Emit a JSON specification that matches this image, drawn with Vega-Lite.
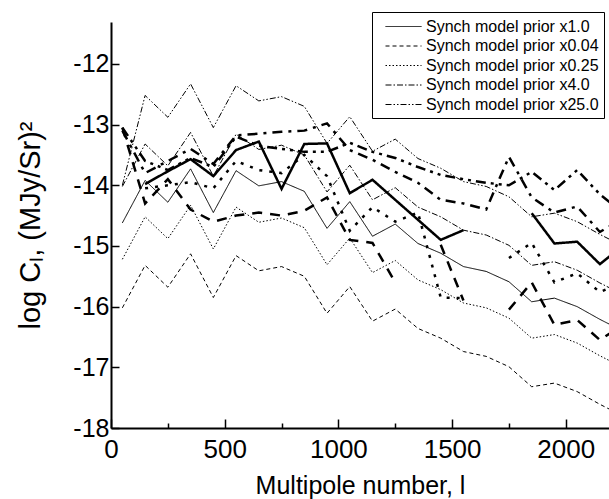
{
  "$schema": "https://vega.github.io/schema/vega-lite/v6.json",
  "width": 498,
  "height": 406,
  "autosize": {"type": "none"},
  "padding": {"left": 111, "top": 22, "right": 0, "bottom": 71},
  "background": "white",
  "config": {
    "view": {"stroke": null},
    "font": "Liberation Sans",
    "axis": {
      "grid": false,
      "domainColor": "black",
      "domainWidth": 2,
      "tickColor": "black",
      "tickWidth": 1.5,
      "labelColor": "black",
      "titleColor": "black",
      "labelFont": "Liberation Sans",
      "titleFont": "Liberation Sans",
      "labelFontSize": 26,
      "titleFontSize": 25,
      "titleFontWeight": "normal"
    }
  },
  "datasets": {
    "thin": [
      {"l": 50, "v": -14.62, "s": "Synch model prior x1.0"},
      {"l": 150, "v": -13.92, "s": "Synch model prior x1.0"},
      {"l": 250, "v": -14.28, "s": "Synch model prior x1.0"},
      {"l": 350, "v": -13.73, "s": "Synch model prior x1.0"},
      {"l": 450, "v": -14.45, "s": "Synch model prior x1.0"},
      {"l": 550, "v": -13.76, "s": "Synch model prior x1.0"},
      {"l": 650, "v": -14.01, "s": "Synch model prior x1.0"},
      {"l": 750, "v": -13.94, "s": "Synch model prior x1.0"},
      {"l": 850, "v": -14.10, "s": "Synch model prior x1.0"},
      {"l": 950, "v": -14.71, "s": "Synch model prior x1.0"},
      {"l": 1050, "v": -14.27, "s": "Synch model prior x1.0"},
      {"l": 1150, "v": -14.84, "s": "Synch model prior x1.0"},
      {"l": 1250, "v": -14.64, "s": "Synch model prior x1.0"},
      {"l": 1350, "v": -14.96, "s": "Synch model prior x1.0"},
      {"l": 1450, "v": -15.12, "s": "Synch model prior x1.0"},
      {"l": 1550, "v": -15.34, "s": "Synch model prior x1.0"},
      {"l": 1650, "v": -15.42, "s": "Synch model prior x1.0"},
      {"l": 1750, "v": -15.59, "s": "Synch model prior x1.0"},
      {"l": 1850, "v": -15.92, "s": "Synch model prior x1.0"},
      {"l": 1950, "v": -15.86, "s": "Synch model prior x1.0"},
      {"l": 2050, "v": -16.00, "s": "Synch model prior x1.0"},
      {"l": 2150, "v": -16.21, "s": "Synch model prior x1.0"},
      {"l": 2250, "v": -16.40, "s": "Synch model prior x1.0"},

      {"l": 50, "v": -16.02, "s": "Synch model prior x0.04"},
      {"l": 150, "v": -15.32, "s": "Synch model prior x0.04"},
      {"l": 250, "v": -15.68, "s": "Synch model prior x0.04"},
      {"l": 350, "v": -15.13, "s": "Synch model prior x0.04"},
      {"l": 450, "v": -15.85, "s": "Synch model prior x0.04"},
      {"l": 550, "v": -15.16, "s": "Synch model prior x0.04"},
      {"l": 650, "v": -15.41, "s": "Synch model prior x0.04"},
      {"l": 750, "v": -15.34, "s": "Synch model prior x0.04"},
      {"l": 850, "v": -15.50, "s": "Synch model prior x0.04"},
      {"l": 950, "v": -16.11, "s": "Synch model prior x0.04"},
      {"l": 1050, "v": -15.67, "s": "Synch model prior x0.04"},
      {"l": 1150, "v": -16.24, "s": "Synch model prior x0.04"},
      {"l": 1250, "v": -16.04, "s": "Synch model prior x0.04"},
      {"l": 1350, "v": -16.36, "s": "Synch model prior x0.04"},
      {"l": 1450, "v": -16.52, "s": "Synch model prior x0.04"},
      {"l": 1550, "v": -16.74, "s": "Synch model prior x0.04"},
      {"l": 1650, "v": -16.82, "s": "Synch model prior x0.04"},
      {"l": 1750, "v": -16.99, "s": "Synch model prior x0.04"},
      {"l": 1850, "v": -17.32, "s": "Synch model prior x0.04"},
      {"l": 1950, "v": -17.26, "s": "Synch model prior x0.04"},
      {"l": 2050, "v": -17.40, "s": "Synch model prior x0.04"},
      {"l": 2150, "v": -17.61, "s": "Synch model prior x0.04"},
      {"l": 2250, "v": -17.80, "s": "Synch model prior x0.04"},

      {"l": 50, "v": -15.22, "s": "Synch model prior x0.25"},
      {"l": 150, "v": -14.52, "s": "Synch model prior x0.25"},
      {"l": 250, "v": -14.88, "s": "Synch model prior x0.25"},
      {"l": 350, "v": -14.33, "s": "Synch model prior x0.25"},
      {"l": 450, "v": -15.05, "s": "Synch model prior x0.25"},
      {"l": 550, "v": -14.36, "s": "Synch model prior x0.25"},
      {"l": 650, "v": -14.61, "s": "Synch model prior x0.25"},
      {"l": 750, "v": -14.54, "s": "Synch model prior x0.25"},
      {"l": 850, "v": -14.70, "s": "Synch model prior x0.25"},
      {"l": 950, "v": -15.31, "s": "Synch model prior x0.25"},
      {"l": 1050, "v": -14.87, "s": "Synch model prior x0.25"},
      {"l": 1150, "v": -15.44, "s": "Synch model prior x0.25"},
      {"l": 1250, "v": -15.24, "s": "Synch model prior x0.25"},
      {"l": 1350, "v": -15.56, "s": "Synch model prior x0.25"},
      {"l": 1450, "v": -15.72, "s": "Synch model prior x0.25"},
      {"l": 1550, "v": -15.94, "s": "Synch model prior x0.25"},
      {"l": 1650, "v": -16.02, "s": "Synch model prior x0.25"},
      {"l": 1750, "v": -16.19, "s": "Synch model prior x0.25"},
      {"l": 1850, "v": -16.52, "s": "Synch model prior x0.25"},
      {"l": 1950, "v": -16.46, "s": "Synch model prior x0.25"},
      {"l": 2050, "v": -16.60, "s": "Synch model prior x0.25"},
      {"l": 2150, "v": -16.81, "s": "Synch model prior x0.25"},
      {"l": 2250, "v": -17.00, "s": "Synch model prior x0.25"},

      {"l": 50, "v": -14.02, "s": "Synch model prior x4.0"},
      {"l": 150, "v": -13.32, "s": "Synch model prior x4.0"},
      {"l": 250, "v": -13.68, "s": "Synch model prior x4.0"},
      {"l": 350, "v": -13.13, "s": "Synch model prior x4.0"},
      {"l": 450, "v": -13.85, "s": "Synch model prior x4.0"},
      {"l": 550, "v": -13.16, "s": "Synch model prior x4.0"},
      {"l": 650, "v": -13.41, "s": "Synch model prior x4.0"},
      {"l": 750, "v": -13.34, "s": "Synch model prior x4.0"},
      {"l": 850, "v": -13.50, "s": "Synch model prior x4.0"},
      {"l": 950, "v": -14.11, "s": "Synch model prior x4.0"},
      {"l": 1050, "v": -13.67, "s": "Synch model prior x4.0"},
      {"l": 1150, "v": -14.24, "s": "Synch model prior x4.0"},
      {"l": 1250, "v": -14.04, "s": "Synch model prior x4.0"},
      {"l": 1350, "v": -14.36, "s": "Synch model prior x4.0"},
      {"l": 1450, "v": -14.52, "s": "Synch model prior x4.0"},
      {"l": 1550, "v": -14.74, "s": "Synch model prior x4.0"},
      {"l": 1650, "v": -14.82, "s": "Synch model prior x4.0"},
      {"l": 1750, "v": -14.99, "s": "Synch model prior x4.0"},
      {"l": 1850, "v": -15.32, "s": "Synch model prior x4.0"},
      {"l": 1950, "v": -15.26, "s": "Synch model prior x4.0"},
      {"l": 2050, "v": -15.40, "s": "Synch model prior x4.0"},
      {"l": 2150, "v": -15.61, "s": "Synch model prior x4.0"},
      {"l": 2250, "v": -15.80, "s": "Synch model prior x4.0"},

      {"l": 50, "v": -14.00, "s": "Synch model prior x25.0"},
      {"l": 150, "v": -12.52, "s": "Synch model prior x25.0"},
      {"l": 250, "v": -12.88, "s": "Synch model prior x25.0"},
      {"l": 350, "v": -12.33, "s": "Synch model prior x25.0"},
      {"l": 450, "v": -13.05, "s": "Synch model prior x25.0"},
      {"l": 550, "v": -12.36, "s": "Synch model prior x25.0"},
      {"l": 650, "v": -12.61, "s": "Synch model prior x25.0"},
      {"l": 750, "v": -12.54, "s": "Synch model prior x25.0"},
      {"l": 850, "v": -12.70, "s": "Synch model prior x25.0"},
      {"l": 950, "v": -13.31, "s": "Synch model prior x25.0"},
      {"l": 1050, "v": -12.87, "s": "Synch model prior x25.0"},
      {"l": 1150, "v": -13.44, "s": "Synch model prior x25.0"},
      {"l": 1250, "v": -13.24, "s": "Synch model prior x25.0"},
      {"l": 1350, "v": -13.56, "s": "Synch model prior x25.0"},
      {"l": 1450, "v": -13.72, "s": "Synch model prior x25.0"},
      {"l": 1550, "v": -13.94, "s": "Synch model prior x25.0"},
      {"l": 1650, "v": -14.02, "s": "Synch model prior x25.0"},
      {"l": 1750, "v": -14.19, "s": "Synch model prior x25.0"},
      {"l": 1850, "v": -14.52, "s": "Synch model prior x25.0"},
      {"l": 1950, "v": -14.46, "s": "Synch model prior x25.0"},
      {"l": 2050, "v": -14.60, "s": "Synch model prior x25.0"},
      {"l": 2150, "v": -14.81, "s": "Synch model prior x25.0"},
      {"l": 2250, "v": -15.00, "s": "Synch model prior x25.0"}
    ],
    "bold": [
      {"l": 50, "v": null, "s": "b1"},
      {"l": 150, "v": -13.98, "s": "b1"},
      {"l": 250, "v": -13.77, "s": "b1"},
      {"l": 350, "v": -13.57, "s": "b1"},
      {"l": 450, "v": -13.85, "s": "b1"},
      {"l": 550, "v": -13.42, "s": "b1"},
      {"l": 650, "v": -13.28, "s": "b1"},
      {"l": 750, "v": -14.06, "s": "b1"},
      {"l": 850, "v": -13.32, "s": "b1"},
      {"l": 950, "v": -13.31, "s": "b1"},
      {"l": 1050, "v": -14.13, "s": "b1"},
      {"l": 1150, "v": -13.91, "s": "b1"},
      {"l": 1250, "v": -14.24, "s": "b1"},
      {"l": 1350, "v": -14.57, "s": "b1"},
      {"l": 1450, "v": -14.90, "s": "b1"},
      {"l": 1550, "v": -14.74, "s": "b1"},
      {"l": 1650, "v": null, "s": "b1"},
      {"l": 1750, "v": null, "s": "b1"},
      {"l": 1850, "v": -14.46, "s": "b1"},
      {"l": 1950, "v": -14.96, "s": "b1"},
      {"l": 2050, "v": -14.93, "s": "b1"},
      {"l": 2150, "v": -15.30, "s": "b1"},
      {"l": 2250, "v": -15.00, "s": "b1"},

      {"l": 50, "v": -13.05, "s": "b004"},
      {"l": 150, "v": -14.30, "s": "b004"},
      {"l": 250, "v": -13.90, "s": "b004"},
      {"l": 350, "v": -14.40, "s": "b004"},
      {"l": 450, "v": -14.60, "s": "b004"},
      {"l": 550, "v": -14.50, "s": "b004"},
      {"l": 650, "v": -14.45, "s": "b004"},
      {"l": 750, "v": -14.50, "s": "b004"},
      {"l": 850, "v": -14.42, "s": "b004"},
      {"l": 950, "v": -14.20, "s": "b004"},
      {"l": 1050, "v": -14.90, "s": "b004"},
      {"l": 1150, "v": -14.95, "s": "b004"},
      {"l": 1250, "v": -15.60, "s": "b004"},
      {"l": 1350, "v": null, "s": "b004"},
      {"l": 1450, "v": -14.98, "s": "b004"},
      {"l": 1550, "v": -15.90, "s": "b004"},
      {"l": 1650, "v": null, "s": "b004"},
      {"l": 1750, "v": -16.05, "s": "b004"},
      {"l": 1850, "v": -15.60, "s": "b004"},
      {"l": 1950, "v": -16.30, "s": "b004"},
      {"l": 2050, "v": -16.22, "s": "b004"},
      {"l": 2150, "v": -16.55, "s": "b004"},
      {"l": 2250, "v": -16.30, "s": "b004"},

      {"l": 50, "v": null, "s": "b025"},
      {"l": 150, "v": -14.05, "s": "b025"},
      {"l": 250, "v": -14.00, "s": "b025"},
      {"l": 350, "v": -13.95, "s": "b025"},
      {"l": 450, "v": -14.05, "s": "b025"},
      {"l": 550, "v": -13.60, "s": "b025"},
      {"l": 650, "v": -13.75, "s": "b025"},
      {"l": 750, "v": -13.80, "s": "b025"},
      {"l": 850, "v": -13.50, "s": "b025"},
      {"l": 950, "v": -13.85, "s": "b025"},
      {"l": 1050, "v": -14.75, "s": "b025"},
      {"l": 1150, "v": -14.36, "s": "b025"},
      {"l": 1250, "v": -14.60, "s": "b025"},
      {"l": 1350, "v": -14.45, "s": "b025"},
      {"l": 1450, "v": -15.85, "s": "b025"},
      {"l": 1550, "v": -15.86, "s": "b025"},
      {"l": 1650, "v": null, "s": "b025"},
      {"l": 1750, "v": -15.20, "s": "b025"},
      {"l": 1850, "v": -14.95, "s": "b025"},
      {"l": 1950, "v": -15.60, "s": "b025"},
      {"l": 2050, "v": -15.45, "s": "b025"},
      {"l": 2150, "v": -15.76, "s": "b025"},
      {"l": 2250, "v": -15.60, "s": "b025"},

      {"l": 50, "v": -13.10, "s": "b4"},
      {"l": 150, "v": -13.80, "s": "b4"},
      {"l": 250, "v": -13.60, "s": "b4"},
      {"l": 350, "v": -13.40, "s": "b4"},
      {"l": 450, "v": -13.65, "s": "b4"},
      {"l": 550, "v": -13.18, "s": "b4"},
      {"l": 650, "v": -13.15, "s": "b4"},
      {"l": 750, "v": -13.12, "s": "b4"},
      {"l": 850, "v": -13.10, "s": "b4"},
      {"l": 950, "v": -12.98, "s": "b4"},
      {"l": 1050, "v": -13.42, "s": "b4"},
      {"l": 1150, "v": -13.58, "s": "b4"},
      {"l": 1250, "v": -13.78, "s": "b4"},
      {"l": 1350, "v": -13.96, "s": "b4"},
      {"l": 1450, "v": -14.24, "s": "b4"},
      {"l": 1550, "v": -14.30, "s": "b4"},
      {"l": 1650, "v": -14.40, "s": "b4"},
      {"l": 1750, "v": -13.53, "s": "b4"},
      {"l": 1850, "v": -14.20, "s": "b4"},
      {"l": 1950, "v": -14.45, "s": "b4"},
      {"l": 2050, "v": -14.35, "s": "b4"},
      {"l": 2150, "v": -14.77, "s": "b4"},
      {"l": 2250, "v": -14.55, "s": "b4"},

      {"l": 50, "v": -13.05, "s": "b25"},
      {"l": 150, "v": -13.60, "s": "b25"},
      {"l": 250, "v": -13.75, "s": "b25"},
      {"l": 350, "v": -13.55, "s": "b25"},
      {"l": 450, "v": -13.70, "s": "b25"},
      {"l": 550, "v": -13.20, "s": "b25"},
      {"l": 650, "v": -13.35, "s": "b25"},
      {"l": 750, "v": -13.40, "s": "b25"},
      {"l": 850, "v": -13.45, "s": "b25"},
      {"l": 950, "v": -13.45, "s": "b25"},
      {"l": 1050, "v": -13.30, "s": "b25"},
      {"l": 1150, "v": -13.45, "s": "b25"},
      {"l": 1250, "v": -13.55, "s": "b25"},
      {"l": 1350, "v": -13.70, "s": "b25"},
      {"l": 1450, "v": -13.83, "s": "b25"},
      {"l": 1550, "v": -13.90, "s": "b25"},
      {"l": 1650, "v": -13.96, "s": "b25"},
      {"l": 1750, "v": -14.00, "s": "b25"},
      {"l": 1850, "v": -13.78, "s": "b25"},
      {"l": 1950, "v": -14.08, "s": "b25"},
      {"l": 2050, "v": -13.75, "s": "b25"},
      {"l": 2150, "v": -14.15, "s": "b25"},
      {"l": 2250, "v": -14.45, "s": "b25"}
    ]
  },
  "layer": [
    {
      "data": {"name": "thin"},
      "mark": {"type": "line", "clip": true, "strokeWidth": 1, "color": "black"},
      "encoding": {
        "x": {
          "field": "l", "type": "quantitative",
          "scale": {"domain": [0, 2190], "nice": false, "zero": false},
          "axis": {
            "title": "Multipole number, l",
            "values": [0, 250, 500, 750, 1000, 1250, 1500, 1750, 2000],
            "format": "d",
            "labelExpr": "datum.value % 500 === 0 ? datum.label : ''",
            "tickSize": {"condition": {"test": "datum.value % 500 === 0", "value": -9}, "value": -5},
            "labelPadding": 17,
            "titlePadding": 11,
            "labelFlush": false
          }
        },
        "y": {
          "field": "v", "type": "quantitative",
          "scale": {"domain": [-18, -11.31], "nice": false, "zero": false},
          "axis": {
            "title": "log Cₗ, (MJy/Sr)²",
            "titleFontSize": 29,
            "values": [-18, -17, -16, -15, -14, -13, -12],
            "labelExpr": "datum.value < 0 ? '-' + abs(datum.value) : datum.label",
            "labelFontSize": 25,
            "tickSize": -8,
            "labelPadding": 10,
            "titlePadding": 27,
            "labelFlush": false
          }
        },
        "strokeDash": {
          "field": "s", "type": "nominal",
          "scale": {
            "domain": ["Synch model prior x1.0", "Synch model prior x0.04", "Synch model prior x0.25", "Synch model prior x4.0", "Synch model prior x25.0"],
            "range": [[1, 0], [4, 3], [1.5, 2], [6, 2, 1.5, 2], [6, 2, 1.5, 2, 1.5, 2]]
          },
          "legend": {
            "title": null,
            "orient": "none",
            "legendX": 261,
            "legendY": -10,
            "strokeColor": "black",
            "fillColor": "white",
            "padding": 5,
            "cornerRadius": 0,
            "symbolType": "M-2,0H2",
            "symbolSize": 324,
            "symbolStrokeColor": "black",
            "symbolStrokeWidth": 1,
            "symbolOffset": 17,
            "labelFont": "Liberation Sans",
            "labelFontSize": 16,
            "labelColor": "black",
            "labelOffset": 13,
            "rowPadding": 1.5,
            "labelLimit": 300
          }
        }
      }
    },
    {
      "data": {"name": "bold"},
      "mark": {"type": "line", "clip": true, "strokeWidth": 2.5, "color": "black", "invalid": "break-paths-filter-domains"},
      "encoding": {
        "x": {"field": "l", "type": "quantitative"},
        "y": {"field": "v", "type": "quantitative"},
        "strokeDash": {
          "field": "s", "type": "nominal",
          "scale": {
            "domain": ["b1", "b004", "b025", "b4", "b25"],
            "range": [[1, 0], [10, 8], [3, 7], [10, 6, 3, 6], [10, 5, 3, 5, 3, 5]]
          },
          "legend": null
        }
      }
    }
  ],
  "resolve": {"scale": {"strokeDash": "independent"}}
}
